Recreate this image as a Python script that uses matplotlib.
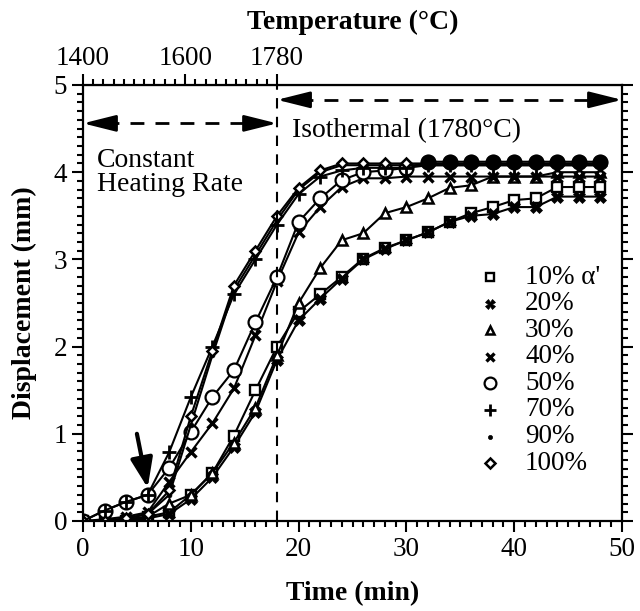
import matplotlib
matplotlib.use('Agg')
import matplotlib.pyplot as plt
import numpy as np
from matplotlib.ticker import MultipleLocator, FixedLocator

plt.rcParams['font.family'] = ['Liberation Serif', 'DejaVu Serif']
plt.rcParams['mathtext.fontset'] = 'stix'

# ---------------- data ----------------
time = [0, 2, 4, 6, 8, 10, 12, 14, 16, 18, 20, 22, 24,
        26, 28, 30, 32, 34, 36, 38, 40, 42, 44, 46, 48]

d10 = [0, 0, 0, 0.05, 0.10, 0.30, 0.55, 0.98, 1.50, 2.00, 2.40, 2.60, 2.80,
       3.01, 3.13, 3.22, 3.31, 3.43, 3.53, 3.60, 3.68, 3.70, 3.83, 3.83, 3.83]
d20 = [0, 0, 0, 0.03, 0.08, 0.25, 0.50, 0.85, 1.25, 1.85, 2.30, 2.55, 2.78,
       3.00, 3.12, 3.22, 3.31, 3.43, 3.50, 3.52, 3.60, 3.60, 3.72, 3.72, 3.72]
d30 = [0, 0, 0.02, 0.05, 0.20, 0.30, 0.55, 0.90, 1.30, 1.90, 2.50, 2.90, 3.22,
       3.30, 3.53, 3.60, 3.70, 3.82, 3.85, 3.95, 3.95, 3.95, 4.00, 4.00, 4.00]
d40 = [0, 0.02, 0.05, 0.10, 0.45, 0.79, 1.12, 1.52, 2.13, 2.75, 3.31, 3.60, 3.83,
       3.93, 3.93, 3.95, 3.95, 3.95, 3.95, 3.95, 3.95, 3.95, 3.95, 3.95, 3.95]
d50 = [0, 0.12, 0.22, 0.30, 0.61, 1.02, 1.42, 1.73, 2.28, 2.80, 3.43, 3.70, 3.91,
       4.00, 4.02, 4.05, 4.12, 4.12, 4.12, 4.12, 4.12, 4.12, 4.12, 4.12, 4.12]
d70 = [0, 0.12, 0.22, 0.30, 0.79, 1.42, 2.00, 2.60, 3.00, 3.40, 3.75, 3.95, 4.02,
       4.05, 4.05, 4.05, 4.08, 4.08, 4.08, 4.08, 4.08, 4.08, 4.08, 4.08, 4.08]
d90 = [0, 0, 0.03, 0.08, 0.30, 1.10, 1.90, 2.65, 3.05, 3.45, 3.80, 4.00, 4.08,
       4.08, 4.08, 4.08, 4.08, 4.08, 4.08, 4.08, 4.08, 4.08, 4.08, 4.08, 4.08]
d100 = [0, 0, 0.03, 0.08, 0.35, 1.20, 1.95, 2.70, 3.10, 3.50, 3.82, 4.02, 4.10,
        4.10, 4.10, 4.10, 4.10, 4.10, 4.10, 4.10, 4.10, 4.10, 4.10, 4.10, 4.10]

labels = ["10% \u03b1'", '20%', '30%', '40%', '50%', '70%', '90%', '100%']
series = [d10, d20, d30, d40, d50, d70, d90, d100]

x_ticks = [0, 10, 20, 30, 40, 50]
y_ticks = [0, 1, 2, 3, 4, 5]
temp_ticks = [1400, 1600, 1780]

# ---------------- styles ----------------
styles = [
    dict(marker='s', mfc='white', mec='black', ms=6.5, mew=1.7),
    dict(marker='X', mfc='black', mec='black', ms=8, mew=0.5),
    dict(marker='^', mfc='white', mec='black', ms=7, mew=1.8),
    dict(marker='x', mec='black', ms=7, mew=2.4),
    dict(marker='o', mfc='white', mec='black', ms=10, mew=1.6),
    dict(marker='+', mec='black', ms=10, mew=2.0),
    dict(marker='o', mfc='black', mec='black', ms=3.5, mew=0.5),
    dict(marker='D', mfc='white', mec='black', ms=5.5, mew=1.8),
]

fig = plt.figure(figsize=(6.4, 6.11), dpi=100)
ax = fig.add_axes([83/640, 1-521/611, (622-83)/640, (521-85)/611])

for vals, st in zip(series, styles):
    ax.plot(time, vals, color='black', lw=1.5, **st)
# 50% points in plateau appear solid (overlapping markers)
t_arr = np.array(time)
d50_arr = np.array(d50)
mask = t_arr >= 32
ax.plot(t_arr[mask], d50_arr[mask], ls='none', marker='o', mfc='black',
        mec='black', ms=10)

ax.set_xlim(0, 50)
ax.set_ylim(0, 5)
ax.set_xticks(x_ticks)
ax.set_yticks(y_ticks)
ax.xaxis.set_minor_locator(MultipleLocator(1))
ax.yaxis.set_minor_locator(MultipleLocator(0.1))
ax.tick_params(which='both', direction='out', width=1.5, labelsize=19.5,
               right=True, top=False)
ax.tick_params(which='major', length=8)
ax.tick_params(which='minor', length=4)
for s in ax.spines.values():
    s.set_linewidth(1.6)

ax.set_xlabel('Time (min)', fontsize=20, fontweight='bold', labelpad=14)
ax.set_ylabel('Displacement (mm)', fontsize=20, fontweight='bold', labelpad=12)

secax = ax.secondary_xaxis('top', functions=(lambda t: 1400 + t * 380 / 18,
                                             lambda T: (T - 1400) * 18 / 380))
secax.xaxis.set_major_locator(FixedLocator(temp_ticks))
secax.xaxis.set_minor_locator(FixedLocator(list(range(1400, 1781, 20))))
secax.tick_params(which='both', direction='out', width=1.5, labelsize=19.5)
secax.tick_params(which='major', length=8, pad=2)
secax.tick_params(which='minor', length=4)
secax.set_xlabel('Temperature (\u00b0C)', fontsize=20, fontweight='bold', labelpad=12)

# vertical dashed separator
ax.axvline(18, color='black', ls=(0, (5, 4)), lw=1.5)

# double-headed dashed arrows
def dashed_double_arrow(x0, x1, y):
    ax.plot([x0 + 2.0, x1 - 2.0], [y, y], color='black', ls=(0, (5, 4)), lw=2)
    for start, end in [((x0 + 2.6, y), (x0, y)), ((x1 - 2.6, y), (x1, y))]:
        ax.annotate('', xy=end, xytext=start,
                    arrowprops=dict(arrowstyle='-|>,head_length=1.0,head_width=0.25',
                                    color='black', lw=2, shrinkA=0, shrinkB=0,
                                    mutation_scale=20))

dashed_double_arrow(0, 18, 4.56)
dashed_double_arrow(18, 50, 4.83)

ax.text(1.3, 4.28, 'Constant\nHeating Rate', fontsize=20, va='top', ha='left',
        linespacing=0.95)
ax.text(19.4, 4.48, 'Isothermal (1780\u00b0C)', fontsize=20, va='center', ha='left')

# arrow pointing to onset
ax.annotate('', xy=(6.0, 0.38), xytext=(5.0, 1.0),
            arrowprops=dict(arrowstyle='-|>,head_length=1.2,head_width=0.45',
                            color='black', lw=3, shrinkA=0, shrinkB=0,
                            mutation_scale=15))

# manual legend (markers + labels), axes-fraction placement
for i, (lab, st) in enumerate(zip(labels, styles)):
    ypx = 277 + i * 26.6
    yf = (521 - ypx) / 436
    xm = (490 - 83) / 539
    xt = (525 - 83) / 539
    st2 = dict(st)
    st2['ms'] = st2['ms'] * 0.85
    ax.plot([xm], [yf], transform=ax.transAxes, ls='none', clip_on=False, **st2)
    ax.text(xt, yf, lab, transform=ax.transAxes, fontsize=19.5, va='center',
            ha='left')

fig.savefig('out.png', dpi=100)
